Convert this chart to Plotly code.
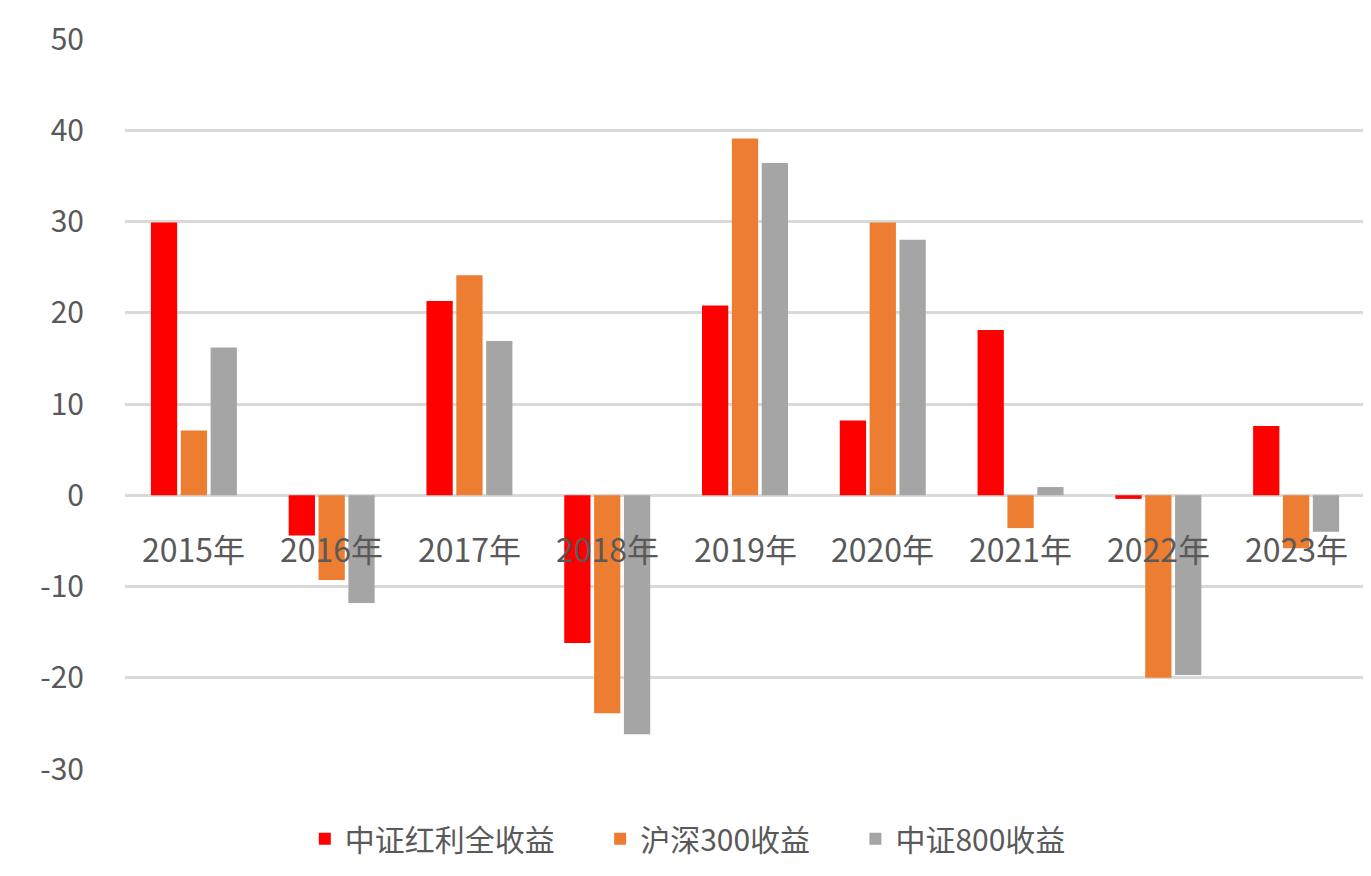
import plotly.graph_objects as go

years = ["2015年", "2016年", "2017年", "2018年", "2019年", "2020年", "2021年", "2022年", "2023年"]
dividend = [29.9, -4.4, 21.3, -16.2, 20.8, 8.2, 18.1, -0.4, 7.6]
hs300 = [7.1, -9.3, 24.1, -23.9, 39.1, 29.9, -3.6, -20.0, -5.8]
zz800 = [16.2, -11.8, 16.9, -26.2, 36.4, 28.0, 0.9, -19.7, -4.0]
tick_vals = [-30, -20, -10, 0, 10, 20, 30, 40, 50]
tick_text = ["-30", "-20", "-10", "0", "10", "20", "30", "40", "50"]

names = ["中证红利全收益", "沪深300收益", "中证800收益"]
colors = ["#FF0000", "#ED7D31", "#A5A5A5"]
font = "Noto Sans CJK SC"

fig = go.Figure()
for name, vals, c in zip(names, [dividend, hs300, zz800], colors):
    fig.add_trace(go.Bar(x=years, y=vals, name=name + "      ", marker_color=c, marker_line_width=0))

# category labels sit just below the zero line, as in the original
for yr in years:
    fig.add_annotation(x=yr, y=-5.8, text=yr, showarrow=False, xref="x", yref="y",
                       font=dict(family=font, size=32, color="#595959"))

fig.update_layout(
    width=1371, height=876, plot_bgcolor="white", paper_bgcolor="white",
    margin=dict(l=117, r=14, t=31, b=115, autoexpand=False),
    barmode="group", bargap=0.35, bargroupgap=0.12,
    font=dict(family=font, color="#595959"),
    legend=dict(orientation="h", x=0.47, xanchor="center", y=-0.06, yanchor="top",
                font=dict(size=30, color="#595959"), itemwidth=30),
    xaxis=dict(showticklabels=False, showline=False, ticks="", automargin=False),
    yaxis=dict(range=[-30, 50], tickvals=tick_vals, ticktext=tick_text, automargin=False,
               gridcolor="#D9D9D9", gridwidth=3,
               zeroline=True, zerolinecolor="#D9D9D9", zerolinewidth=3,
               tickfont=dict(size=30, color="#595959"), ticklabelstandoff=40),
)
fig.write_html("out.html")
